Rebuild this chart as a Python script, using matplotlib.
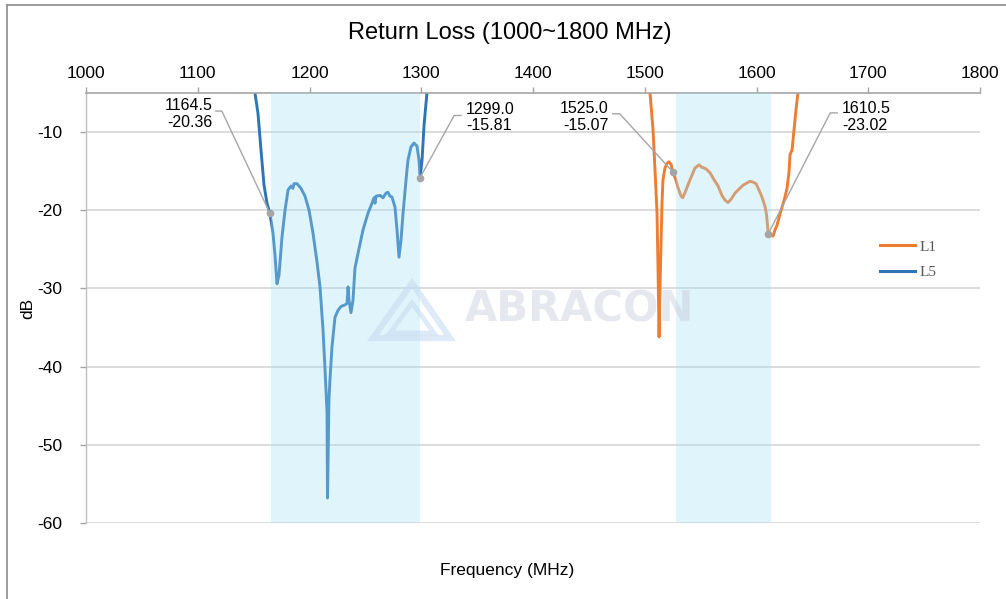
import matplotlib
matplotlib.use('Agg')
import matplotlib.pyplot as plt
from matplotlib.lines import Line2D
from matplotlib.patches import Polygon

plt.rcParams['font.family'] = ['Liberation Sans', 'DejaVu Sans']
plt.rcParams['axes.unicode_minus'] = False

# ---------------- data ----------------
l5_freq = [1146.0, 1151.2, 1153.9, 1156.6, 1159.3, 1162.0, 1164.5, 1167.3, 1169.1, 1170.9,
           1172.7, 1175.4, 1178.1, 1180.8, 1183.4, 1185.2, 1186.1, 1188.8, 1192.4, 1196.0,
           1199.6, 1203.1, 1206.7, 1209.4, 1212.1, 1213.9, 1215.7, 1216.1, 1217.4, 1218.3,
           1220.1, 1222.8, 1225.5, 1228.2, 1231.8, 1233.6, 1234.5, 1235.3, 1237.1, 1238.9,
           1240.7, 1244.3, 1247.9, 1252.3, 1255.9, 1257.7, 1258.6, 1259.5, 1263.1, 1265.8,
           1268.5, 1270.2, 1272.0, 1273.8, 1276.5, 1278.3, 1280.1, 1281.9, 1283.7, 1286.4,
           1288.1, 1290.8, 1293.5, 1296.2, 1298.0, 1299.0, 1300.7, 1302.5, 1305.1, 1307.8]
l5_db = [-2.1, -5.0, -7.6, -12.3, -16.8, -19.1, -20.36, -22.9, -25.7, -29.4,
         -28.3, -23.4, -20.0, -17.4, -16.9, -17.2, -16.6, -16.6, -17.2, -18.2,
         -20.0, -22.9, -26.6, -29.8, -35.3, -40.4, -45.9, -56.8, -44.3, -41.7,
         -37.5, -33.7, -32.8, -32.3, -32.1, -31.9, -29.8, -31.5, -33.1, -31.5,
         -27.4, -24.9, -22.5, -20.4, -19.1, -18.4, -19.1, -18.2, -18.1, -18.4,
         -17.8, -17.7, -18.2, -18.3, -19.6, -22.5, -26.0, -23.8, -20.4, -16.1,
         -13.6, -11.9, -11.4, -11.8, -13.6, -15.81, -13.6, -9.1, -5.0, -2.1]

l1_freq = [1502.9, 1504.7, 1507.4, 1509.2, 1511.0, 1511.9, 1512.8, 1513.6, 1514.5, 1515.4,
           1516.3, 1518.1, 1519.9, 1521.7, 1523.5, 1525.0, 1527.8, 1529.5, 1532.2, 1534.0,
           1536.7, 1539.4, 1542.3, 1544.9, 1548.5, 1551.2, 1554.8, 1558.4, 1562.0, 1565.6,
           1569.1, 1571.8, 1574.5, 1577.2, 1580.8, 1584.3, 1587.9, 1591.5, 1594.2, 1596.9,
           1599.6, 1602.2, 1604.9, 1607.6, 1609.0, 1610.5, 1613.0, 1614.8, 1616.6, 1618.4,
           1621.0, 1623.7, 1625.5, 1627.3, 1629.1, 1630.0, 1631.8, 1633.6, 1635.3, 1637.1,
           1638.9]
l1_db = [-2.1, -5.0, -9.7, -14.9, -20.4, -27.6, -36.2, -30.2, -24.7, -19.3,
         -16.1, -14.6, -14.0, -13.8, -14.1, -15.07, -16.1, -17.0, -18.1, -18.4,
         -17.5, -16.5, -15.5, -14.6, -14.2, -14.5, -14.7, -15.2, -16.1, -16.9,
         -18.1, -18.7, -19.0, -18.6, -17.8, -17.3, -16.8, -16.5, -16.3, -16.4,
         -16.6, -17.4, -18.3, -19.5, -20.6, -23.02, -23.2, -23.3, -22.5, -21.9,
         -20.5, -19.2, -18.3, -17.2, -15.1, -12.9, -12.3, -9.7, -7.2, -5.0,
         -2.1]

marker_freq = [1164.5, 1299.0, 1525.0, 1610.5]
marker_db = [-20.36, -15.81, -15.07, -23.02]
band_l5 = (1165.5, 1299.0)
band_l1 = (1528.0, 1612.7)
x_ticks = [1000, 1100, 1200, 1300, 1400, 1500, 1600, 1700, 1800]
y_ticks = [-10, -20, -30, -40, -50, -60]
series_names = ['L1', 'L5']

# ---------------- figure ----------------
W, H = 1006, 599
fig = plt.figure(figsize=(W / 100, H / 100), dpi=100)
ax = fig.add_axes([86 / W, 1 - 523 / H, (980 - 86) / W, (523 - 93) / H])
ax.set_xlim(1000, 1800)
ax.set_ylim(-60, -5)

ax.set_yticks(y_ticks)
ax.set_xticks(x_ticks)
ax.yaxis.grid(True, color='#D9D9D9', lw=1.3, zorder=0)
ax.set_axisbelow(True)

for s in ['right', 'bottom']:
    ax.spines[s].set_visible(False)
ax.spines['top'].set_color('#A6A6A6')
ax.spines['top'].set_linewidth(1.2)
ax.spines['left'].set_color('#BFBFBF')
ax.spines['left'].set_linewidth(1.0)

ax.tick_params(axis='x', top=True, bottom=False, labeltop=True, labelbottom=False,
               length=4, width=1, color='#A6A6A6', pad=4.5, labelsize=12.5, labelcolor='#000000')
ax.tick_params(axis='y', left=True, length=4, width=1, color='#A6A6A6', pad=13,
               labelsize=12.5, labelcolor='#000000')

# curves
c_l1 = '#ED7D31'
c_l5 = '#2E75B6'
ax.plot(l1_freq, l1_db, color=c_l1, lw=2.1, zorder=2, label=series_names[0],
        solid_joinstyle='round')
ax.plot(l5_freq, l5_db, color=c_l5, lw=2.1, zorder=2, label=series_names[1],
        solid_joinstyle='round')

# bands (semi-transparent, over curves)
band_col = (164 / 255, 223 / 255, 246 / 255)
ax.axvspan(*band_l5, color=band_col, alpha=0.34, lw=0, zorder=3)
ax.axvspan(*band_l1, color=band_col, alpha=0.34, lw=0, zorder=3)

# marker points
ax.plot(marker_freq, marker_db, 'o', color='#A5A5A5', ms=5.5, zorder=6, mec='none')

# leader lines + labels (offsets in image pixels: dx right, dy down)
leaders = [
    ((-48, -102), (-54, -102), (-57, -99), 'right'),
    ((34, -62), (41, -62), (46, -60), 'left'),
    ((-53, -58), (-60, -58), (-64, -55), 'right'),
    ((62, -121), (69, -121), (74, -117), 'left'),
]
fig.canvas.draw()
inv = fig.transFigure.inverted()
for f, d, (el, en, tp, ha) in zip(marker_freq, marker_db, leaders):
    px, py = ax.transData.transform((f, d))
    pts = [(px, py), (px + el[0], py - el[1]), (px + en[0], py - en[1])]
    fpts = inv.transform(pts)
    fig.add_artist(Line2D(fpts[:, 0], fpts[:, 1], color='#A6A6A6', lw=1.0, zorder=5))
    tx, ty = inv.transform((px + tp[0], py - tp[1]))
    fig.text(tx, ty, f"{f:.1f}\n{d:.2f}", ha=ha, va='center', fontsize=11.5,
             color='#000000', linespacing=1.15, zorder=7)

# legend
leg = fig.legend(handles=[Line2D([], [], color=c_l1, lw=2.2), Line2D([], [], color=c_l5, lw=2.2)],
                 labels=series_names, loc='upper left', bbox_to_anchor=(880 / W, 1 - 240 / H),
                 frameon=False, borderpad=0, borderaxespad=0, handlelength=2.3,
                 handletextpad=0.3, labelspacing=0.75,
                 prop={'family': 'Liberation Serif', 'size': 11})
for t in leg.get_texts():
    t.set_color('#595959')

# titles
fig.text(510 / W, 1 - 33 / H, 'Return Loss (1000~1800 MHz)', ha='center', va='center',
         fontsize=17, color='#000000')
fig.text(507 / W, 1 - 570 / H, 'Frequency (MHz)', ha='center', va='center',
         fontsize=12.5, color='#000000')
fig.text(28 / W, 1 - 308 / H, 'dB', ha='center', va='center', rotation=90,
         fontsize=12.5, color='#000000')

# watermark
wm_col = '#C9DDF2'
outer = [(412, 283), (373, 338), (450, 338)]
inner = [(412, 303), (390, 333), (434, 333)]
for tri, lw in [(outer, 4.5), (inner, 3.5)]:
    fig.add_artist(Polygon([(x / W, 1 - y / H) for x, y in tri], closed=True, fill=False,
                           ec=wm_col, lw=lw, alpha=0.6, joinstyle='miter', zorder=8))
fig.text(579 / W, 1 - 309 / H, 'ABRACON', ha='center', va='center', fontsize=30,
         fontweight='bold', family='DejaVu Sans', color='#C8CCDC', alpha=0.45, zorder=8)

# outer frame
fig.add_artist(Line2D([7 / W, 7 / W], [0, 1 - 5 / H], color='#8C8C8C', lw=1.2))
fig.add_artist(Line2D([7 / W, 1], [1 - 5 / H, 1 - 5 / H], color='#8C8C8C', lw=1.2))

fig.savefig('out.png', dpi=100)
